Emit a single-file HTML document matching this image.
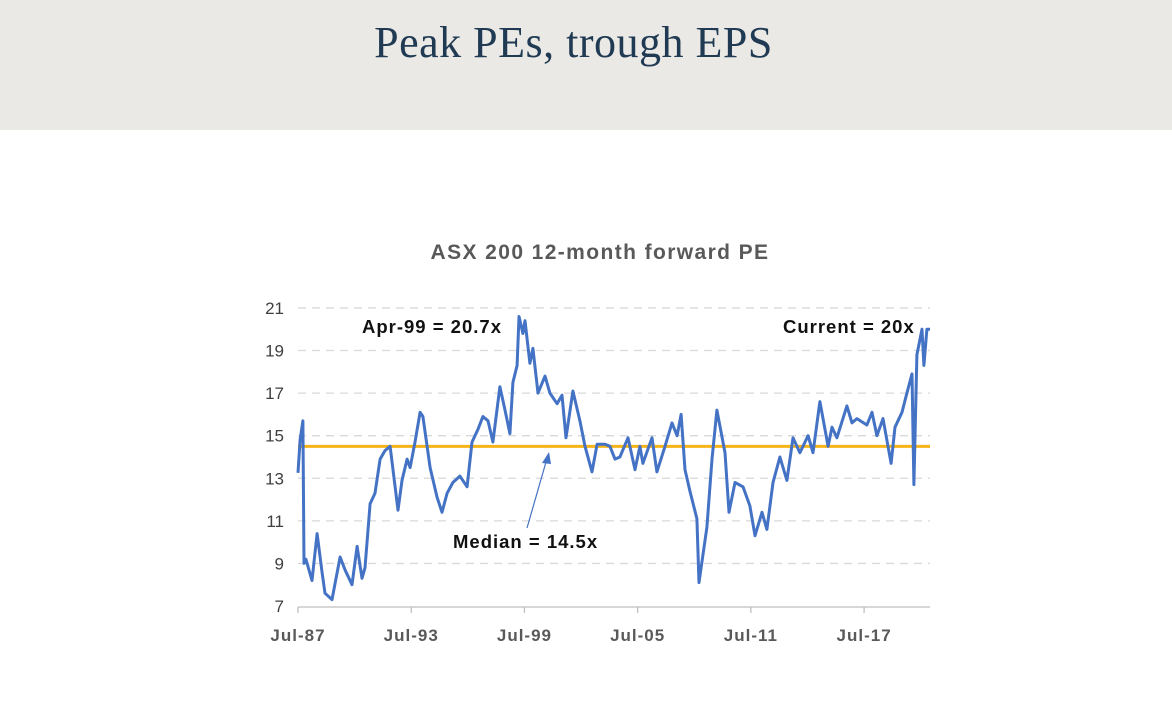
<!DOCTYPE html>
<html><head><meta charset="utf-8"><style>
body{margin:0;width:1172px;height:712px;background:#fff;overflow:hidden;font-family:"Liberation Sans",sans-serif}
#hdr{position:absolute;left:0;top:0;width:1172px;height:130px;background:#ebe9e6}
#ttl{position:absolute;left:0;top:17px;width:1147px;text-align:center;font-family:"Liberation Serif",serif;font-size:44px;color:#1f3a52;letter-spacing:0.5px}
svg{position:absolute;left:0;top:0}
</style></head><body>
<div id="hdr"></div>
<div id="ttl">Peak PEs, trough EPS</div>
<svg id="c" width="1172" height="712"></svg>
<script>
const dates=[1987.50,1987.61,1987.76,1987.82,1987.92,1988.24,1988.51,1988.77,1988.93,1989.30,1989.73,1989.99,1990.36,1990.63,1990.89,1991.05,1991.32,1991.58,1991.85,1992.11,1992.38,1992.80,1993.01,1993.28,1993.44,1993.70,1993.97,1994.12,1994.50,1994.87,1995.13,1995.40,1995.71,1996.08,1996.46,1996.72,1997.04,1997.30,1997.57,1997.83,1998.20,1998.47,1998.73,1998.89,1999.11,1999.21,1999.42,1999.53,1999.79,1999.95,2000.22,2000.59,2000.85,2001.23,2001.49,2001.70,2002.07,2002.44,2002.71,2003.08,2003.35,2003.77,2004.03,2004.30,2004.56,2004.99,2005.36,2005.62,2005.78,2006.26,2006.52,2006.95,2007.32,2007.59,2007.80,2008.01,2008.27,2008.64,2008.75,2009.17,2009.44,2009.70,2010.13,2010.34,2010.66,2011.08,2011.45,2011.72,2012.09,2012.35,2012.67,2013.04,2013.41,2013.73,2014.10,2014.53,2014.79,2015.16,2015.59,2015.80,2016.06,2016.59,2016.86,2017.12,2017.65,2017.92,2018.18,2018.50,2018.93,2019.14,2019.51,2019.77,2020.04,2020.14,2020.30,2020.57,2020.67,2020.83,2020.99];
const values=[13.25,14.8,15.7,9.0,9.2,8.2,10.4,8.6,7.6,7.3,9.3,8.7,8.0,9.8,8.3,8.8,11.8,12.3,13.9,14.3,14.5,11.5,12.9,13.9,13.5,14.7,16.1,15.9,13.5,12.1,11.4,12.3,12.8,13.1,12.6,14.7,15.3,15.9,15.7,14.7,17.3,16.2,15.1,17.5,18.3,20.6,19.8,20.4,18.4,19.1,17.0,17.8,17.0,16.5,16.9,14.9,17.1,15.7,14.5,13.3,14.6,14.6,14.5,13.9,14.0,14.9,13.4,14.5,13.7,14.9,13.3,14.5,15.6,15.0,16.0,13.4,12.4,11.1,8.1,10.7,13.9,16.2,14.2,11.4,12.8,12.6,11.7,10.3,11.4,10.6,12.8,14.0,12.9,14.9,14.2,15.0,14.2,16.6,14.5,15.4,14.9,16.4,15.6,15.8,15.5,16.1,15.0,15.8,13.7,15.4,16.1,17.0,17.9,12.7,18.8,20.0,18.3,20.0,20.0];
const yTicks=[7,9,11,13,15,17,19,21];
const xTickYears=[1987.5,1993.5,1999.5,2005.5,2011.5,2017.5];
const xTickLabels=["Jul-87","Jul-93","Jul-99","Jul-05","Jul-11","Jul-17"];
const median=14.5;
const NS="http://www.w3.org/2000/svg";
const svg=document.getElementById('c');
const X=t=>298+(t-1987.5)*18.87;
const Y=v=>606-(v-7)*21.29;
function mk(tag,attrs,parent){const e=document.createElementNS(NS,tag);for(const k in attrs)e.setAttribute(k,attrs[k]);(parent||svg).appendChild(e);return e;}
let e=mk('text',{x:600,y:259,'text-anchor':'middle','font-size':21,'font-weight':'bold',fill:'#595959','letter-spacing':1.4});e.textContent='ASX 200 12-month forward PE';


yTicks.forEach(v=>{
 if(v>7){const g=mk('line',{x1:298,x2:930,y1:Y(v),y2:Y(v),stroke:'#d9d9d9','stroke-width':1.3,'stroke-dasharray':'8,6'});
 
 }
 const t=mk('text',{x:284,y:Y(v)+6,'text-anchor':'end','font-size':17,fill:'#404040'});t.textContent=v;
 
 
});
e=mk('line',{x1:298,x2:930,y1:607,y2:607,stroke:'#bfbfbf','stroke-width':1.3});


xTickYears.forEach((t,i)=>{
 mk('line',{x1:X(t),x2:X(t),y1:607,y2:613,stroke:'#bfbfbf','stroke-width':1.3});
 const l=mk('text',{x:X(t),y:641,'text-anchor':'middle','font-size':17,'font-weight':'bold',fill:'#595959','letter-spacing':1});l.textContent=xTickLabels[i];
 
 
});
e=mk('line',{x1:298,x2:930,y1:Y(median),y2:Y(median),stroke:'#f7b418','stroke-width':3});


e=mk('polyline',{points:dates.map((d,i)=>X(d).toFixed(1)+','+Y(values[i]).toFixed(1)).join(' '),fill:'none',stroke:'#4472c4','stroke-width':3,'stroke-linejoin':'round'});


e=mk('line',{x1:527,y1:528,x2:546,y2:462,stroke:'#4472c4','stroke-width':1.2});


mk('polygon',{points:'549,452 542,463 551,464',fill:'#4472c4'});
[['Apr-99 = 20.7x',362,333,'peak-annotation'],['Current = 20x',783,333,'current-annotation'],['Median = 14.5x',453,548,'median-annotation']].forEach(a=>{
 const t=mk('text',{x:a[1],y:a[2],'font-size':18.5,'font-weight':'bold',fill:'#111','letter-spacing':1});t.textContent=a[0];
 
 
});
</script>
</body></html>
